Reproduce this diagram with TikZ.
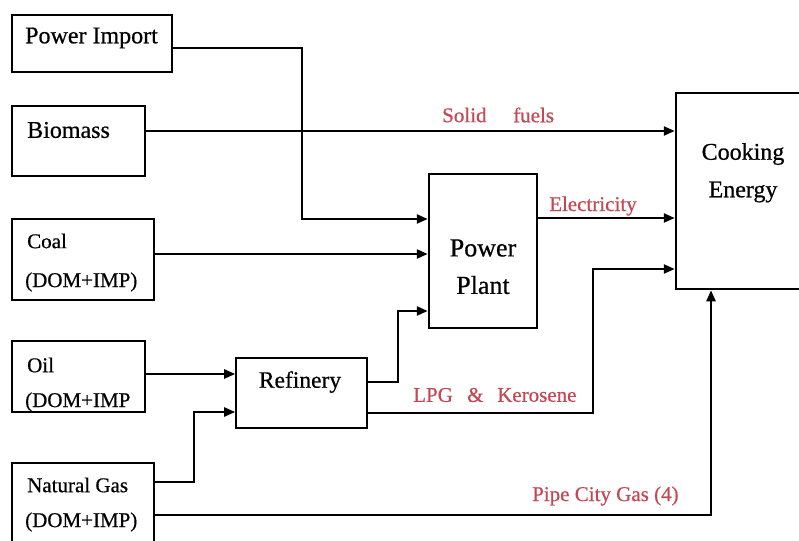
\documentclass[tikz,border=0pt]{standalone}
\usepackage{fontspec}
\setmainfont{Liberation Serif}[BoldFont={Liberation Serif}, BoldFeatures={FakeBold=0.6}]
\usetikzlibrary{arrows.meta}
\definecolor{lab}{RGB}{196,72,84}
\tikzset{
  box/.style={draw, line width=2.5pt, inner sep=0pt},
  thinbox/.style={draw, line width=1.6pt, inner sep=0pt},
  txt/.style={inner sep=0pt, anchor=west, font=\bfseries\fontsize{24}{26}\selectfont},
  smtxt/.style={inner sep=0pt, anchor=west, font=\bfseries\fontsize{21}{23}\selectfont},
  big/.style={inner sep=0pt, font=\bfseries\fontsize{26}{28}\selectfont},
  rl/.style={inner sep=0pt, anchor=west, text=lab, font=\bfseries\fontsize{21}{23}\selectfont},
  arr/.style={line width=2.3pt, -{Triangle[length=11pt,width=9pt]}}
}
\begin{document}
\begin{tikzpicture}[x=1pt,y=-1pt]
\useasboundingbox (0,0) rectangle (799,540);
\clip (0,0) rectangle (799,540);
% boxes
\node[box, minimum width=160pt, minimum height=57pt] (pi) at (92,43.5) {};
\node[box, minimum width=133pt, minimum height=70pt] (bio) at (78.5,141) {};
\node[box, minimum width=142pt, minimum height=81pt] (coal) at (83,259.5) {};
\node[box, minimum width=133pt, minimum height=71pt] (oil) at (78.5,376.5) {};
\node[box, minimum width=142pt, minimum height=90pt] (ng) at (83,508) {};
\node[thinbox, minimum width=131pt, minimum height=70pt] (ref) at (301.5,393) {};
\node[box, minimum width=108pt, minimum height=154pt] (pp) at (483,251) {};
\node[box, minimum width=130pt, minimum height=196pt] (ce) at (741,191) {};
% texts
\node[txt] (tpi) at (25,38) {Power Import};
\node[txt] (tbio) at (27,130) {Biomass};
\node[smtxt] (tcoal) at (27,241) {Coal};
\node[smtxt] (tcoal2) at (25,282) {(DOM+IMP)};
\node[smtxt] (toil) at (27,365) {Oil};
\node[smtxt] (toil2) at (25,402) {(DOM+IMP};
\node[smtxt] (tng) at (27,485) {Natural Gas};
\node[smtxt] (tng2) at (25,522) {(DOM+IMP)};
\node[inner sep=0pt, font=\bfseries\fontsize{23.5}{25}\selectfont] (tref) at (300,382) {Refinery};
\node[big] (tpp1) at (483,248) {Power};
\node[big] (tpp2) at (483,285) {Plant};
\node[big, font=\bfseries\fontsize{24}{26}\selectfont] (tce1) at (743,154) {Cooking};
\node[big, font=\bfseries\fontsize{24}{26}\selectfont] (tce2) at (743,192) {Energy};
% red labels
\node[rl] (ls1) at (442,115) {Solid};
\node[rl] (ls2) at (513,115) {fuels};
\node[rl] (lel) at (549,206) {Electricity};
\node[rl] (llpg) at (413,395) {LPG};
\node[rl] (lamp) at (467,395) {\&};
\node[rl] (lker) at (497,395) {Kerosene};
\node[rl] (lpipe) at (532,496) {Pipe City Gas (4)};
% connectors
\draw[arr] (pi.east|-0,48) -- (302,48) -- (302,219) -- (pp.west|-0,219);
\draw[arr] (bio.east|-0,131) -- (ce.west|-0,131);
\draw[arr] (coal.east|-0,254) -- (pp.west|-0,254);
\draw[arr] (ref.east|-0,382) -- (398,382) -- (398,311) -- (pp.west|-0,311);
\draw[arr] (pp.east|-0,218) -- (ce.west|-0,218);
\draw[arr] (ref.east|-0,413) -- (593,413) -- (593,269) -- (ce.west|-0,269);
\draw[arr] (oil.east|-0,374) -- (ref.west|-0,374);
\draw[arr] (ng.east|-0,482) -- (194,482) -- (194,412) -- (ref.west|-0,412);
\draw[arr] (ng.east|-0,515) -- (711,515) -- (ce.south-|711,0);
\end{tikzpicture}
\end{document}
